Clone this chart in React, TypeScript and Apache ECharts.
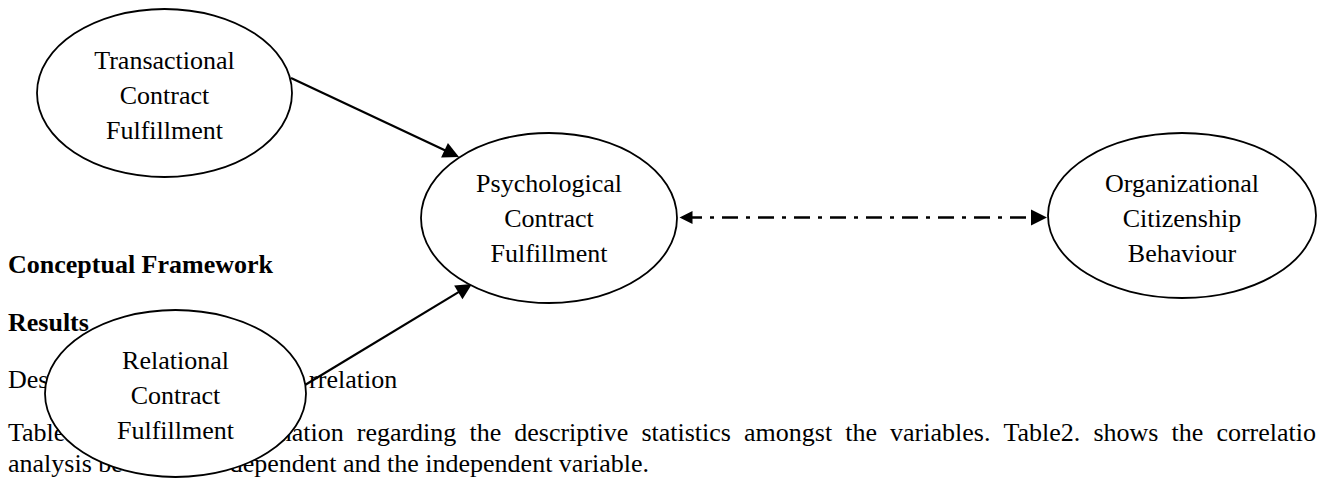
import { useEffect, useRef } from 'react';
import * as echarts from 'echarts';

// Diagram nodes (ellipses) in page coordinates
const nodeLabels = [
  'Transactional\nContract\nFulfillment',
  'Relational\nContract\nFulfillment',
  'Psychological\nContract\nFulfillment',
  'Organizational\nCitizenship\nBehaviour',
];
const nodeX = [164.5, 175.5, 549, 1182];
const nodeY = [93, 393.5, 218, 215.5];
const nodeRx = [127.5, 130.5, 128, 134];
const nodeRy = [84, 83.5, 85, 82.5];
const nodeLabelY = [95, 395, 218, 218];

// Arrows (from -> tip)
const arrowFromX = [291, 305, 678];
const arrowFromY = [78, 385, 217.5];
const arrowToX = [459, 472, 1047];
const arrowToY = [157, 284, 217.5];
const arrowBothEnds = [false, false, true];
const arrowDashed = [false, false, true];

// Page text
const headings = ['Conceptual Framework', 'Results'];
const headingBaselines = [272, 330];
const bodyLines = [
  'Descriptive Statistics and Correlation',
  'Table1. shows the information regarding the descriptive statistics amongst the variables. Table2. shows the correlatio',
  'analysis between the dependent and the independent variable.',
];
const bodyBaselines = [387, 440, 471];
const bodyJustified = [false, true, false];
// parts of each line hidden behind the "Relational" ellipse
const visibleHead = ['Des', 'Table', 'analysis be'];
const visibleResume = ['rrelation', 'rmation', 'e dependent'];

const FONT_FAMILY = '"Liberation Serif", "Times New Roman", serif';
const FS = 26;
const ARROW_W = 13;
const ARROW_H = 16;

let measureCtx: CanvasRenderingContext2D | null = null;
function measure(t: string, font: string): number {
  if (!measureCtx) measureCtx = document.createElement('canvas').getContext('2d');
  if (!measureCtx) return t.length * FS * 0.45;
  measureCtx.font = font;
  return measureCtx.measureText(t).width;
}

export default function App() {
  const ref = useRef<HTMLDivElement>(null);

  useEffect(() => {
    document.body.style.margin = '0';
    const chart = echarts.init(ref.current!, undefined, { renderer: 'svg' });

    const baseOff = 8; // middle -> baseline offset
    const graphics: any[] = [];
    const textStyle = (text: string, bold = false) => ({
      text,
      fontSize: FS,
      fontWeight: bold ? 'bold' : 'normal',
      fontFamily: FONT_FAMILY,
      fill: '#000',
      align: 'left',
      verticalAlign: 'middle',
    });

    headings.forEach((h, i) => {
      graphics.push({ type: 'text', x: 8, y: headingBaselines[i] - baseOff, z: 0, style: textStyle(h, true) });
    });

    const font = `${FS}px "Liberation Serif"`;
    bodyLines.forEach((line, i) => {
      const y = bodyBaselines[i] - baseOff;
      const hideFrom = visibleHead[i].length;
      const hideTo = line.indexOf(visibleResume[i]);
      const words = line.split(' ');
      const widths = words.map((w) => measure(w, font));
      const total = widths.reduce((a, b) => a + b, 0);
      const gap = bodyJustified[i] ? (1316 - 8 - total) / (words.length - 1) : measure(' ', font);
      let x = 8;
      let charPos = 0;
      words.forEach((w, k) => {
        const s = charPos;
        const e = charPos + w.length;
        // visible pieces of this word
        const pieces: [number, number][] = [];
        if (e <= hideFrom || s >= hideTo) pieces.push([0, w.length]);
        else {
          if (s < hideFrom) pieces.push([0, hideFrom - s]);
          if (e > hideTo) pieces.push([hideTo - s, w.length]);
        }
        pieces.forEach(([a, b]) => {
          if (b <= a) return;
          graphics.push({
            type: 'text',
            x: x + measure(w.slice(0, a), font),
            y,
            z: 0,
            style: textStyle(w.slice(a, b)),
          });
        });
        x += widths[k] + gap;
        charPos = e + 1;
      });
    });

    const lineData = arrowFromX.map((fx, i) => {
      const fy = arrowFromY[i];
      const tx = arrowToX[i];
      const ty = arrowToY[i];
      const len = Math.hypot(tx - fx, ty - fy);
      const dx = (tx - fx) / len;
      const dy = (ty - fy) / len;
      const h = ARROW_H / 2;
      const start = arrowBothEnds[i] ? [fx + dx * h, fy + dy * h] : [fx, fy];
      const end = [tx - dx * h, ty - dy * h];
      return {
        coords: [start, end],
        symbol: [arrowBothEnds[i] ? 'triangle' : 'none', 'triangle'],
        symbolSize: [ARROW_W, ARROW_H],
        lineStyle: {
          color: '#000',
          width: arrowDashed[i] ? 2.5 : 2.2,
          type: arrowDashed[i] ? [16, 8, 4, 8] : 'solid',
          opacity: 1,
          curveness: 0,
        },
      };
    });

    chart.setOption({
      animation: false,
      backgroundColor: '#fff',
      grid: { left: 0, right: 0, top: 0, bottom: 0 },
      xAxis: { type: 'value', min: 0, max: 1319, show: false },
      yAxis: { type: 'value', min: 0, max: 478, inverse: true, show: false },
      graphic: graphics,
      series: [
        {
          type: 'lines',
          coordinateSystem: 'cartesian2d',
          z: 3,
          silent: true,
          symbolSize: [ARROW_W, ARROW_H],
          data: lineData,
        },
        {
          type: 'custom',
          coordinateSystem: 'cartesian2d',
          z: 4,
          clip: false,
          silent: true,
          data: nodeX.map((x, i) => [x, nodeY[i], nodeRx[i], nodeRy[i], nodeLabelY[i]]),
          renderItem: (params: any, api: any) => {
            const i = params.dataIndex;
            const c = api.coord([api.value(0), api.value(1)]);
            const s = api.size([api.value(2), api.value(3)]);
            const lc = api.coord([api.value(0), api.value(4)]);
            return {
              type: 'group',
              children: [
                {
                  type: 'ellipse',
                  shape: { cx: c[0], cy: c[1], rx: s[0], ry: s[1] },
                  style: { fill: '#fff', stroke: '#000', lineWidth: 1.8 },
                },
                {
                  type: 'text',
                  x: lc[0],
                  y: lc[1],
                  style: {
                    text: nodeLabels[i],
                    fontSize: FS,
                    fontFamily: FONT_FAMILY,
                    fill: '#000',
                    align: 'center',
                    verticalAlign: 'middle',
                    lineHeight: 35,
                  },
                },
              ],
            };
          },
        },
      ],
    });
    return () => chart.dispose();
  }, []);

  return (
    <div
      ref={ref}
      style={{ position: 'absolute', left: 0, top: 0, width: 1319, height: 478, background: '#fff' }}
    />
  );
}
